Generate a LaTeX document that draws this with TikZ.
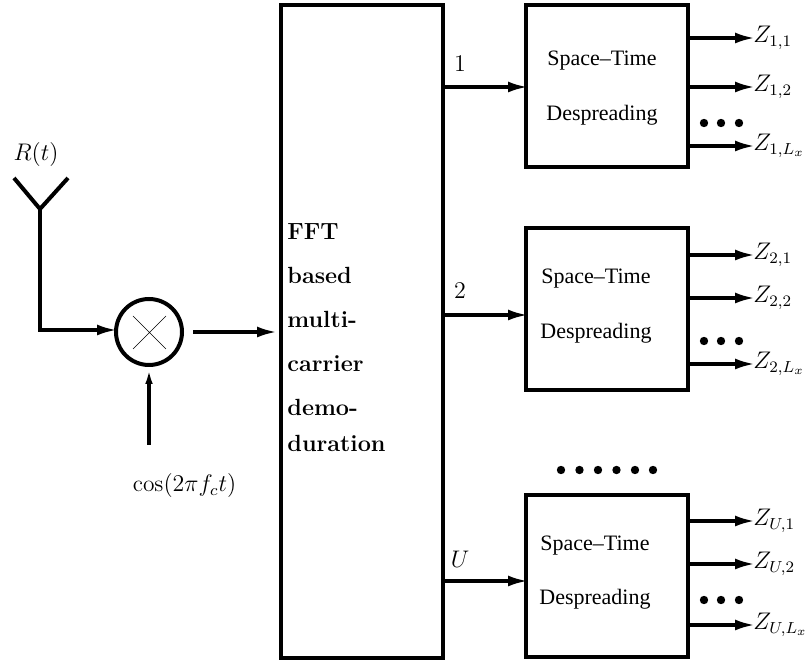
\documentclass[tikz,border=0pt]{standalone}
\usepackage{fontspec}
\newfontfamily\timesfont{Liberation Serif}
\usetikzlibrary{arrows.meta}

\begin{document}
\begin{tikzpicture}[
  x=0.5pt, y=-0.5pt,
  block/.style={draw=black, line width=2pt, inner sep=0pt, minimum width=81pt, minimum height=81pt},
  mixer/.style={draw=black, circle, line width=2pt, inner sep=0pt, minimum size=33pt},
  arrow/.style={-{Latex[length=10pt,width=5.5pt]}, line width=1.7pt, shorten >=-1.5pt},
  blocktext/.style={font=\timesfont\fontsize{11}{13}\selectfont},
  fftlabel/.style={anchor=base west, inner sep=0pt, font=\bfseries\fontsize{11.7}{14}\selectfont},
  mathlabel/.style={font=\fontsize{11.7}{14}\selectfont},
  every node/.style={font=\small}
]
\useasboundingbox (0,0) rectangle (805,662);

% Bloco FFT
\node[block, minimum height=326.5pt] (fft) at (362,331.5) {};
\foreach \i/\y/\txt in {1/240/FFT,2/284/based,3/328/multi-,4/372/carrier,5/416/demo-,6/452/duration}{
  \node[fftlabel] (fftline\i) at (287,\y) {\txt};
}

% Antena e misturador
\coordinate (tipL) at (14,178);
\coordinate (tipR) at (68,178);
\coordinate (feed) at (40,209);
\draw[line width=2pt] (tipL) -- (feed) -- (tipR);
\node[mathlabel] (rlabel) at (36,155) {$R(t)$};
\node[mixer] (mix) at (149,332) {};
\draw[line width=0.3pt] (133,316) -- (166,349) (133,349) -- (166,316);
\draw[arrow] (feed) |- ([yshift=1pt]mix.west);

\coordinate (mixout) at (193,332);
\coordinate (fftin) at (274,332);
\draw[arrow] (mixout) -- (fftin);

\coordinate (cosin) at (149,445);
\node[mathlabel] (coslabel) at (184.5,486) {$\cos(2\pi f_c t)$};
\draw[-{Latex[length=10pt,width=3.5pt]}, line width=1.7pt, shorten >=-1.5pt] (cosin) -- ([yshift=0pt]mix.south);

% Blocos Space-Time
\foreach \b/\cy/\tx/\ya/\yb/\yin/\ylab/\ydots/\lab in {
  1/86.5/602/61/115/87/64/123/1,
  2/309.5/596/279/333/315/291/341/2,
  3/576.5/595/546/599/581/559/600/U
}{
  \node[block] (st\b) at (607,\cy) {};
  \node[blocktext] (sta\b) at (\tx,\ya) {Space–Time};
  \node[blocktext] (stb\b) at (\tx,\yb) {Despreading};

  % entrada do bloco
  \coordinate (in\b) at (525,\yin);
  \draw[arrow] (fft.east |- in\b) -- (in\b);
  \node[mathlabel] (lab\b) at (460,\ylab) {$\lab$};

  % reticências
  \foreach \x in {704,721,739}{
    \fill (\x,\ydots) circle (2.1pt);
  }
}

% Saídas Z
\foreach \b/\k/\y/\sub in {
  1/1/38/1,1/2/87/2,1/3/146/L_x,
  2/1/255/1,2/2/298/2,2/3/364/L_x,
  3/1/521/1,3/2/564/2,3/3/625/L_x
}{
  \coordinate (out\b\k) at (752,\y);
  \ifnum\b=3
    \node[mathlabel, anchor=west, inner sep=0pt] (z\b\k) at (753,\y) {$Z_{U,\sub}$};
  \else
    \node[mathlabel, anchor=west, inner sep=0pt] (z\b\k) at (753,\y) {$Z_{\b,\sub}$};
  \fi
  \draw[arrow] (st\b.east |- out\b\k) -- (out\b\k);
}

% Pontos entre os blocos
\foreach \x in {561,579.5,598,616.5,635,653}{
  \fill (\x,470) circle (2.1pt);
}

\end{tikzpicture}
\end{document}
